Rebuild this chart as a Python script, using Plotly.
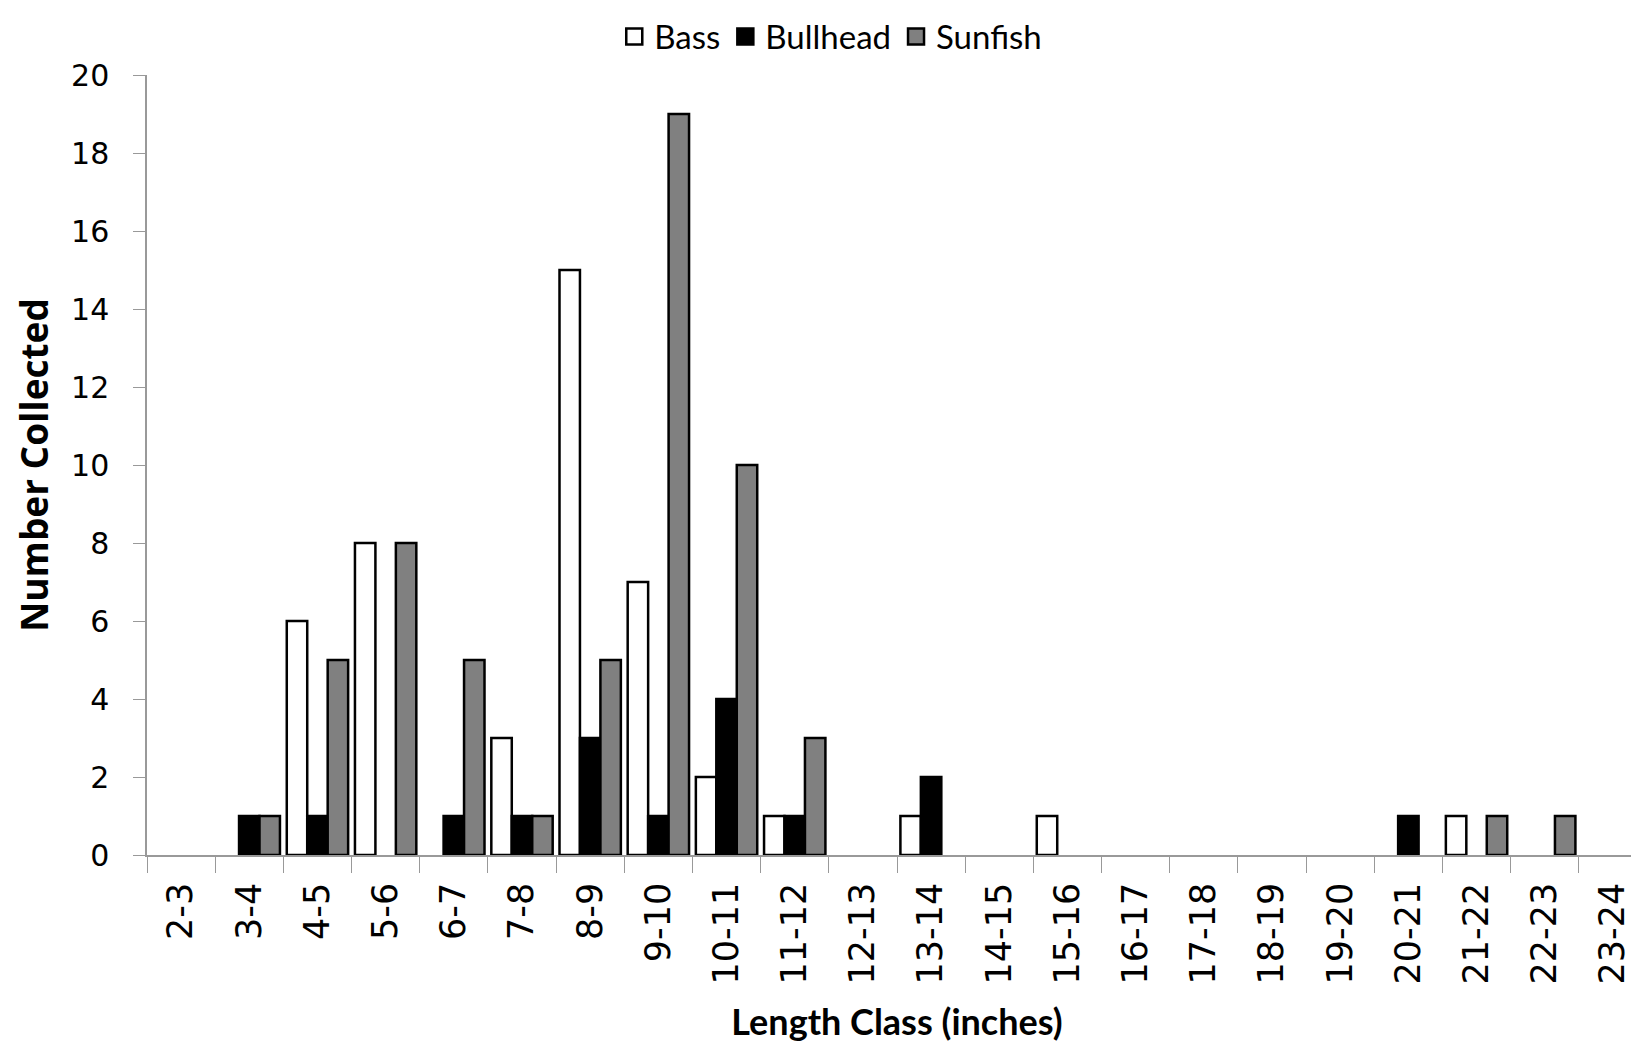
import plotly.graph_objects as go

categories = ["2-3", "3-4", "4-5", "5-6", "6-7", "7-8", "8-9", "9-10", "10-11", "11-12",
              "12-13", "13-14", "14-15", "15-16", "16-17", "17-18", "18-19", "19-20",
              "20-21", "21-22", "22-23", "23-24"]
bass     = [0, 0, 6, 8, 0, 3, 15, 7, 2, 1, 0, 1, 0, 1, 0, 0, 0, 0, 0, 1, 0, 0]
bullhead = [0, 1, 1, 0, 1, 1, 3, 1, 4, 1, 0, 2, 0, 0, 0, 0, 0, 0, 1, 0, 0, 0]
sunfish  = [0, 1, 5, 8, 5, 1, 5, 19, 10, 3, 0, 0, 0, 0, 0, 0, 0, 0, 0, 1, 1, 0]
y_ticks = [0, 2, 4, 6, 8, 10, 12, 14, 16, 18, 20]

def nz(vals):
    return [v if v else None for v in vals]

series = [("Bass", bass, "#ffffff"),
          ("Bullhead", bullhead, "#000000"),
          ("Sunfish", sunfish, "#808080")]

fig = go.Figure()
for name, vals, color in series:
    fig.add_trace(go.Bar(x=categories, y=nz(vals), name=name, showlegend=False,
                         legendgroup=name,
                         marker=dict(color=color, line=dict(color="#000000", width=2.5))))
# legend entries with larger square swatches
for name, vals, color in series:
    fig.add_trace(go.Scatter(x=[None], y=[None], mode="markers", name=name,
                             legendgroup=name,
                             marker=dict(symbol="square", size=18, color=color,
                                         line=dict(color="#000000", width=2.5))))

fig.update_layout(
    width=1639, height=1054,
    barmode="group", bargap=0.1, bargroupgap=0,
    plot_bgcolor="white", paper_bgcolor="white",
    margin=dict(l=139, r=0, t=67, b=207, autoexpand=False),
    showlegend=True,
    legend=dict(orientation="h", x=0.502, xref="container", xanchor="center",
                y=0.973, yref="container", yanchor="middle",
                font=dict(family="Lato", size=33, color="black"),
                itemwidth=30, tracegroupgap=0),
    xaxis=dict(type="category", showline=True, linecolor="#999999", linewidth=1.5,
               ticks="outside", tickson="boundaries", ticklen=16, tickcolor="#999999",
               tickangle=-90, showgrid=False, automargin=False, ticklabelstandoff=12,
               tickfont=dict(family="DejaVu Sans", size=35, color="black"),
               title=dict(text="<b>Length Class (inches)</b>", standoff=26,
                          font=dict(family="Lato", size=36, color="black"))),
    yaxis=dict(range=[0, 20], tickvals=y_ticks, showline=True, linecolor="#999999",
               linewidth=1.5, ticks="outside", ticklen=12, tickcolor="#999999",
               showgrid=False, zeroline=False, automargin=False, ticklabelstandoff=18,
               tickfont=dict(family="DejaVu Sans", size=30, color="black"),
               title=dict(text="<b>Number Collected</b>", standoff=12,
                          font=dict(family="Open Sans", size=37, color="black"))),
)

fig.write_html("out.html")
